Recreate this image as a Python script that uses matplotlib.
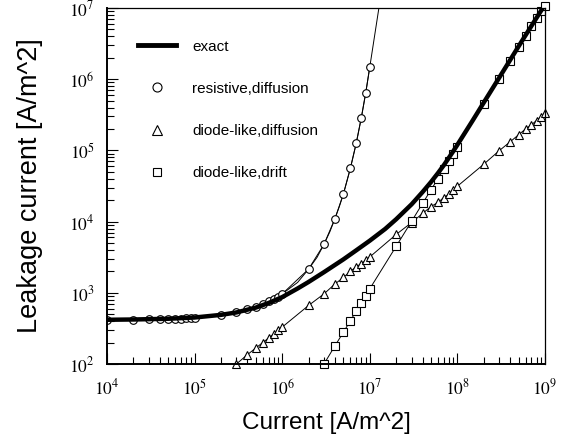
import math

import matplotlib
matplotlib.use('Agg')
import matplotlib.pyplot as plt
from matplotlib.lines import Line2D
from matplotlib.ticker import LogLocator, FuncFormatter, NullFormatter

plt.rcParams['mathtext.fontset'] = 'stix'
plt.rcParams['font.family'] = 'Liberation Sans'

# ─── DATA ────────────────────────────────────────────────────────────────────

# exact model
EXACT_X = [1e4, 2e4, 5e4, 1e5, 2e5, 3e5, 5e5, 7e5, 1e6, 1.5e6, 2e6, 3e6, 5e6, 7e6,
           1e7, 1.5e7, 2e7, 3e7, 4e7, 5e7, 6e7, 7e7, 8e7, 9e7,
           1e8, 1.5e8, 2e8, 3e8, 5e8, 7e8, 1e9]
EXACT_Y = [418, 422, 432, 450, 490, 530, 620, 720, 870, 1150, 1420, 1950, 2950, 3950,
           5400, 7900, 10800, 17500, 26000, 36000, 48000, 62000, 79000, 98000,
           120000, 265000, 470000, 1.05e6, 2.9e6, 5.6e6, 1.12e7]

# resistive, diffusion (sample points)
RES_X = [1e4, 2e4, 3e4, 4e4, 5e4, 6e4, 7e4, 8e4, 9e4,
         1e5, 2e5, 3e5, 4e5, 5e5, 6e5, 7e5, 8e5, 9e5,
         1e6, 2e6, 3e6, 4e6, 5e6, 6e6, 7e6, 8e6, 9e6, 1e7]
RES_Y = [418, 420, 422, 425, 428, 430, 433, 436, 440,
         445, 490, 530, 585, 640, 700, 760, 815, 885,
         965, 2150, 4800, 1.1e4, 2.45e4, 5.6e4, 1.26e5, 2.87e5, 6.5e5, 1.49e6]
# resistive curve between the wide-spaced samples, and where it leaves the top
RES_CURVE_X = [1e6, 1.5e6, 2e6, 2.5e6, 3e6, 3.5e6, 4e6, 4.5e6, 5e6,
               6e6, 7e6, 8e6, 9e6, 1e7, 1.27e7]
RES_CURVE_Y = [965, 1400, 2150, 3150, 4800, 7200, 1.1e4, 1.64e4, 2.45e4,
               5.6e4, 1.26e5, 2.87e5, 6.5e5, 1.49e6, 1e7]

# diode-like, diffusion
DIFF_X = [3e5, 4e5, 5e5, 6e5, 7e5, 8e5, 9e5,
          1e6, 2e6, 3e6, 4e6, 5e6, 6e6, 7e6, 8e6, 9e6,
          1e7, 2e7, 3e7, 4e7, 5e7, 6e7, 7e7, 8e7, 9e7,
          1e8, 2e8, 3e8, 4e8, 5e8, 6e8, 7e8, 8e8, 9e8, 1e9]
DIFF_Y = [100, 135, 168, 200, 232, 264, 297,
          330, 664, 966, 1330, 1645, 2000, 2320, 2570, 2870,
          3190, 6600, 9700, 1.3e4, 1.63e4, 1.86e4, 2.18e4, 2.43e4, 2.76e4,
          3.14e4, 6.4e4, 9.9e4, 1.32e5, 1.66e5, 2.0e5, 2.29e5, 2.63e5, 2.94e5, 3.3e5]

# diode-like, drift
DRIFT_X = [3e6, 4e6, 5e6, 6e6, 7e6, 8e6, 9e6,
           1e7, 2e7, 3e7, 4e7, 5e7, 6e7, 7e7, 8e7, 9e7,
           1e8, 2e8, 3e8, 4e8, 5e8, 6e8, 7e8, 8e8, 9e8, 1e9]
DRIFT_Y = [100, 180, 280, 405, 555, 730, 910,
           1140, 4500, 1.01e4, 1.8e4, 2.8e4, 4.0e4, 5.5e4, 7.2e4, 9.0e4,
           1.12e5, 4.5e5, 1.0e6, 1.8e6, 2.85e6, 4.1e6, 5.6e6, 7.3e6, 9.1e6, 1.06e7]

LABELS = ['exact', 'resistive,diffusion', 'diode-like,diffusion', 'diode-like,drift']


def pow10(v, pos):
    return r'$\mathrm{10^{%d}}$' % round(math.log10(v))


def main():
    fig = plt.figure(figsize=(5.67, 4.45), dpi=100)
    ax = fig.add_axes([0.1887, 0.182, 0.7725, 0.8])

    mk = dict(color='black', lw=0.7, mfc='white', mec='black', mew=0.8, ms=5.5)
    ax.plot(RES_CURVE_X, RES_CURVE_Y, color='black', lw=0.7)
    ax.plot(RES_X, RES_Y, marker='o', **mk)
    ax.plot(DIFF_X, DIFF_Y, marker='^', clip_on=False, **mk)
    ax.plot(DRIFT_X, DRIFT_Y, marker='s', clip_on=False, **mk)
    ax.plot(EXACT_X, EXACT_Y, color='black', lw=3.2, solid_capstyle='butt')

    ax.set_xscale('log')
    ax.set_yscale('log')
    ax.set_xlim(1e4, 1e9)
    ax.set_ylim(1e2, 1e7)

    for axis in (ax.xaxis, ax.yaxis):
        axis.set_major_locator(LogLocator(base=10))
        axis.set_minor_locator(LogLocator(base=10, subs=range(2, 10)))
        axis.set_major_formatter(FuncFormatter(pow10))
        axis.set_minor_formatter(NullFormatter())
    ax.tick_params(which='both', direction='in', top=False, right=False,
                   labelsize=12.5, width=0.8)
    ax.tick_params(which='major', length=8)
    ax.tick_params(which='minor', length=5)
    ax.tick_params(axis='y', pad=9)
    ax.tick_params(axis='x', pad=10)
    for s in ('left', 'bottom'):
        ax.spines[s].set_linewidth(1.4)
    for s in ('top', 'right'):
        ax.spines[s].set_linewidth(0.9)

    ax.set_xlabel('Current [A/m^2]', fontsize=17.5, labelpad=10)
    ax.set_ylabel('Leakage current [A/m^2]', fontsize=19.5, labelpad=19)

    handles = [
        Line2D([], [], color='black', lw=3.5),
        Line2D([], [], ls='none', marker='o', mfc='white', mec='black', mew=0.8, ms=6.5),
        Line2D([], [], ls='none', marker='^', mfc='white', mec='black', mew=0.8, ms=6.5),
        Line2D([], [], ls='none', marker='s', mfc='white', mec='black', mew=0.8, ms=6),
    ]
    ax.legend(handles, LABELS, loc='upper left', bbox_to_anchor=(0.04, 0.95),
              frameon=False, fontsize=11, handlelength=2.5, handletextpad=1.05,
              labelspacing=1.85)

    fig.savefig('out.png', dpi=100)
    plt.close(fig)


if __name__ == '__main__':
    main()
